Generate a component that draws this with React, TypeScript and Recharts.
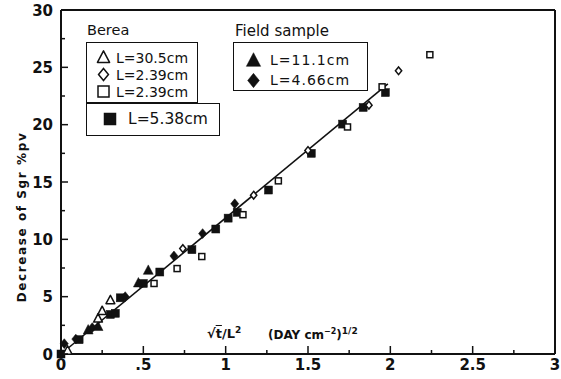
import React from 'react';
import { ScatterChart, Scatter, XAxis, YAxis, ReferenceLine } from 'recharts';

// values: [sqrt(t)/L^2, decrease of Sgr %pv]
const bereaL305: number[][] = [[0.04, 0.3], [0.225, 3.1], [0.25, 3.75], [0.3, 4.7]];
const bereaL239a: number[][] = [[0.74, 9.2], [1.17, 13.85], [1.5, 17.75], [1.87, 21.7], [2.05, 24.7]];
const bereaL239b: number[][] = [[0.565, 6.15], [0.705, 7.45], [0.855, 8.5], [1.105, 12.15], [1.32, 15.1], [1.74, 19.8], [1.95, 23.3], [2.24, 26.1]];
const bereaL538: number[][] = [
  [0, 0], [0.11, 1.25], [0.3, 3.45], [0.33, 3.55], [0.36, 4.9], [0.5, 6.15], [0.6, 7.15], [0.795, 9.1],
  [0.94, 10.9], [1.015, 11.85], [1.07, 12.35], [1.26, 14.3], [1.52, 17.5], [1.71, 20.05], [1.835, 21.5], [1.97, 22.8],
];
const fieldL111: number[][] = [[0.165, 2.1], [0.225, 2.4], [0.47, 6.2], [0.53, 7.3]];
const fieldL466: number[][] = [[0.02, 0.9], [0.09, 1.3], [0.19, 2.3], [0.39, 5.0], [0.686, 8.55], [0.86, 10.5], [1.055, 13.1]];
const fitLine: number[][] = [[0, 0], [1.985, 23.55]];

const xTicks = [0, 0.25, 0.5, 0.75, 1, 1.25, 1.5, 1.75, 2, 2.25, 2.5, 2.75, 3];
const xTickLabels = ['0', '', '.5', '', '1', '', '1.5', '', '2', '', '2.5', '', '3'];
const yTicks = [0, 2.5, 5, 7.5, 10, 12.5, 15, 17.5, 20, 22.5, 25, 27.5, 30];
const yTickLabels = ['0', '', '5', '', '10', '', '15', '', '20', '', '25', '', '30'];

const bereaLabels = ['L=30.5cm', 'L=2.39cm', 'L=2.39cm'];
const bereaExtraLabel = 'L=5.38cm';
const fieldLabels = ['L=11.1cm', 'L=4.66cm'];

const toPts = (arr: number[][]) => arr.map(([x, y]) => ({ x, y }));

const FONT = '"DejaVu Sans", sans-serif';
const INK = '#111';

type Kind = 'openTri' | 'openDia' | 'openSq' | 'fillSq' | 'fillTri' | 'fillDia';

function glyph(kind: Kind, cx: number, cy: number, s: number) {
  const open = kind.startsWith('open');
  const fill = open ? '#fff' : INK;
  const sw = open ? 1.5 : 0.5;
  if (kind === 'openTri' || kind === 'fillTri') {
    const pts = `${cx},${cy - s * 0.6} ${cx - s * 0.55},${cy + s * 0.45} ${cx + s * 0.55},${cy + s * 0.45}`;
    return <polygon points={pts} fill={fill} stroke={INK} strokeWidth={sw} strokeLinejoin="round" />;
  }
  if (kind === 'openDia' || kind === 'fillDia') {
    const pts = `${cx},${cy - s * 0.55} ${cx + s * 0.45},${cy} ${cx},${cy + s * 0.55} ${cx - s * 0.45},${cy}`;
    return <polygon points={pts} fill={fill} stroke={INK} strokeWidth={sw} />;
  }
  return <rect x={cx - s / 2} y={cy - s / 2} width={s} height={s} fill={fill} stroke={INK} strokeWidth={sw} />;
}

const makeShape = (kind: Kind, s: number) => (p: any) => <g>{glyph(kind, p.cx, p.cy, s)}</g>;

function XTick({ x, y, index }: any) {
  const label = xTickLabels[index] ?? '';
  const major = label !== '';
  return (
    <g>
      <line x1={x} x2={x} y1={y} y2={y - (major ? 8 : 4)} stroke={INK} strokeWidth={1.5} />
      {major && (
        <text x={x} y={y + 16} textAnchor="middle" fontFamily={FONT} fontWeight="bold" fontSize={15} fill={INK}>
          {label}
        </text>
      )}
    </g>
  );
}

function YTick({ x, y, index }: any) {
  const label = yTickLabels[index] ?? '';
  const major = label !== '';
  return (
    <g>
      <line x1={x} x2={x + (major ? 7 : 4)} y1={y} y2={y} stroke={INK} strokeWidth={1.5} />
      {major && (
        <text x={x - 8} y={y + 5.5} textAnchor="end" fontFamily={FONT} fontWeight="bold" fontSize={15} fill={INK}>
          {label}
        </text>
      )}
    </g>
  );
}

function Sym({ kind, size }: { kind: Kind; size: number }) {
  return (
    <svg width={size + 4} height={size + 4} style={{ display: 'block' }}>
      {glyph(kind, (size + 4) / 2, (size + 4) / 2, size)}
    </svg>
  );
}

const abs = (left: number, top: number, extra: React.CSSProperties = {}): React.CSSProperties => ({
  position: 'absolute', left, top, ...extra,
});

export default function App() {
  const legendText: React.CSSProperties = { fontFamily: FONT, fontSize: 14, color: INK, whiteSpace: 'nowrap' };
  const berea: Kind[] = ['openTri', 'openDia', 'openSq'];
  const field: Kind[] = ['fillTri', 'fillDia'];
  return (
    <div style={{ position: 'absolute', left: 0, top: 0, width: 561, height: 379, background: '#fff' }}>
      <ScatterChart width={561} height={379} margin={{ top: 10, right: 6, bottom: 0, left: 0 }}>
        <XAxis
          type="number"
          dataKey="x"
          domain={[0, 3]}
          ticks={xTicks}
          interval={0}
          height={25}
          tickSize={0}
          tickMargin={0}
          tickLine={false}
          tick={<XTick />}
          axisLine={{ stroke: INK, strokeWidth: 2 }}
        />
        <YAxis
          type="number"
          dataKey="y"
          domain={[0, 30]}
          ticks={yTicks}
          interval={0}
          width={61}
          tickSize={0}
          tickMargin={0}
          tickLine={false}
          tick={<YTick />}
          axisLine={{ stroke: INK, strokeWidth: 2 }}
        />
        <ReferenceLine y={30} stroke={INK} strokeWidth={2} />
        <ReferenceLine x={3} stroke={INK} strokeWidth={2} />
        <ReferenceLine
          segment={[{ x: fitLine[0][0], y: fitLine[0][1] }, { x: fitLine[1][0], y: fitLine[1][1] }]}
          stroke={INK}
          strokeWidth={1.6}
        />
        <Scatter data={toPts(bereaL538)} shape={makeShape('fillSq', 8)} isAnimationActive={false} />
        <Scatter data={toPts(fieldL466)} shape={makeShape('fillDia', 9)} isAnimationActive={false} />
        <Scatter data={toPts(fieldL111)} shape={makeShape('fillTri', 9)} isAnimationActive={false} />
        <Scatter data={toPts(bereaL305)} shape={makeShape('openTri', 8)} isAnimationActive={false} />
        <Scatter data={toPts(bereaL239a)} shape={makeShape('openDia', 7)} isAnimationActive={false} />
        <Scatter data={toPts(bereaL239b)} shape={makeShape('openSq', 6)} isAnimationActive={false} />
      </ScatterChart>

      {/* y axis title */}
      <div
        style={abs(22, 217, {
          transform: 'translate(-50%, -50%) rotate(-90deg)',
          fontFamily: FONT, fontWeight: 'bold', fontSize: 12, letterSpacing: 1.6, color: INK, whiteSpace: 'nowrap',
        })}
      >
        Decrease of Sgr %pv
      </div>

      {/* x axis title, drawn inside the plot */}
      <div style={abs(207, 325, { fontFamily: FONT, fontWeight: 'bold', fontSize: 13, color: INK, whiteSpace: 'nowrap' })}>
        √<span style={{ textDecoration: 'overline' }}>t</span>/L<sup style={{ fontSize: 9 }}>2</sup>
      </div>
      <div style={abs(268, 326, { fontFamily: FONT, fontWeight: 'bold', fontSize: 12, color: INK, whiteSpace: 'nowrap' })}>
        (DAY cm<sup style={{ fontSize: 8 }}>−2</sup>)<sup style={{ fontSize: 9 }}>1/2</sup>
      </div>

      {/* legends */}
      <div style={abs(87, 22, { ...legendText, fontSize: 14.5 })}>Berea</div>
      <div style={abs(86, 42, { width: 112, height: 61, border: '1.5px solid ' + INK, boxSizing: 'border-box' })} />
      {berea.map((k, i) => (
        <div key={k} style={abs(96, 49 + i * 17, { display: 'flex', alignItems: 'center', height: 17 })}>
          <Sym kind={k} size={11} />
          <span style={{ ...legendText, marginLeft: 5 }}>{bereaLabels[i]}</span>
        </div>
      ))}
      <div style={abs(86, 103, { width: 134, height: 33, border: '1.5px solid ' + INK, boxSizing: 'border-box' })} />
      <div style={abs(102, 109, { display: 'flex', alignItems: 'center', height: 20 })}>
        <Sym kind="fillSq" size={12} />
        <span style={{ ...legendText, fontSize: 15.5, marginLeft: 10 }}>{bereaExtraLabel}</span>
      </div>

      <div style={abs(235, 22, { ...legendText, fontSize: 15 })}>Field sample</div>
      <div style={abs(233, 42, { width: 135, height: 49, border: '1.5px solid ' + INK, boxSizing: 'border-box' })} />
      {field.map((k, i) => (
        <div key={k} style={abs(245, 50 + i * 20, { display: 'flex', alignItems: 'center', height: 20 })}>
          <Sym kind={k} size={13} />
          <span style={{ ...legendText, letterSpacing: 1, marginLeft: 8 }}>{fieldLabels[i]}</span>
        </div>
      ))}
    </div>
  );
}
